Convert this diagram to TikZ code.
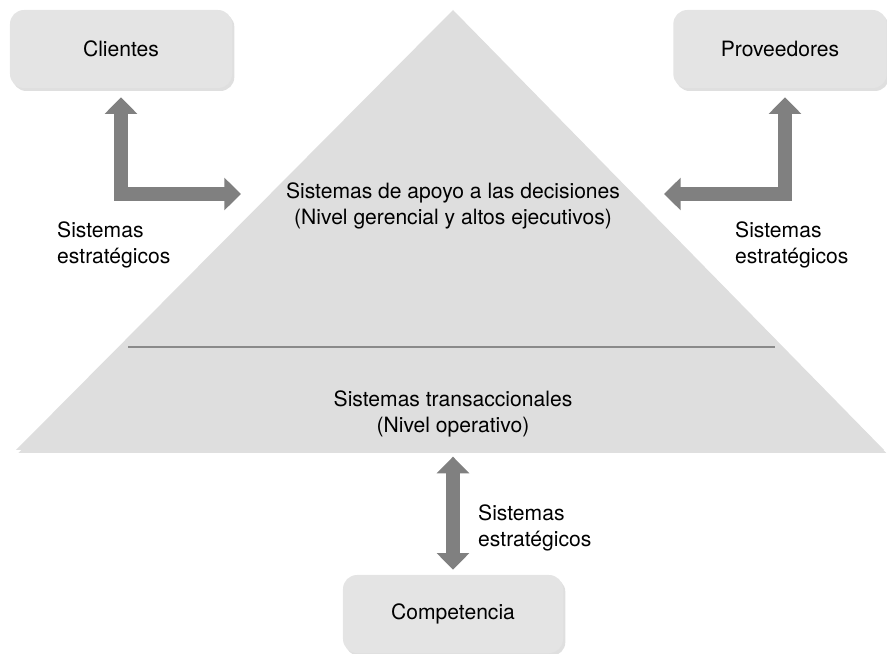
\documentclass[tikz,border=0pt]{standalone}
\usepackage{fontspec}
\setmainfont{TeX Gyre Heros}
\usepackage{tikz}
\usetikzlibrary{arrows.meta,positioning,calc,shadows}
\definecolor{BoxGray}{HTML}{E4E4E4}
\definecolor{PyrGray}{HTML}{DEDEDE}
\definecolor{ArrGray}{HTML}{808080}
\definecolor{LineGray}{HTML}{8A8A8A}

\begin{document}
\begin{tikzpicture}[x=0.03cm,y=-0.03cm,
    font=\fontsize{18}{22}\selectfont,
    actor/.style={draw=none,fill=BoxGray,rounded corners=0.42cm,minimum height=2.34cm,
      drop shadow={shadow xshift=0.07cm,shadow yshift=-0.09cm,opacity=0.25}},
    bigarrow/.style={draw=ArrGray,line width=0.4cm,
      {Triangle[width=0.95cm,length=0.5cm]}-{Triangle[width=0.95cm,length=0.5cm]}},
    lbl/.style={align=left,anchor=west,inner sep=0pt}]
      \useasboundingbox (0,0) rectangle (887,654);
      % piramide
      \coordinate (apex) at (453,10);
      \coordinate (bl) at (16,450);
      \coordinate (br) at (884,450);
      \coordinate (bm) at (453,450);
      \fill[PyrGray,drop shadow={shadow xshift=0.07cm,shadow yshift=-0.09cm,opacity=0.25}]
        (apex) -- (br) -- (bl) -- cycle;
      \coordinate (dl) at (128,347);
      \coordinate (dr) at (775,347);
      \draw[LineGray,line width=0.06cm] (dl) -- (dr);
      \node[align=center] (dss) at (453,206) {Sistemas de apoyo a las decisiones\\(Nivel gerencial y altos ejecutivos)};
      \node[align=center] (tps) at (453,414) {Sistemas transaccionales\\(Nivel operativo)};
      % entorno
      \node[actor,minimum width=6.66cm] (cli) at (121,49) {Clientes};
      \node[actor,minimum width=6.4cm] (prov) at (780,49) {Proveedores};
      \node[actor,minimum width=6.6cm] (comp) at (453,614) {Competencia};
      \coordinate (ltip) at (241,194);
      \coordinate (rtip) at (664,194);
      \draw[bigarrow] ([yshift=-0.27cm]cli.south) |- (ltip);
      \draw[bigarrow] ([yshift=-0.27cm]cli.south -| 785,0) |- (rtip);
      \draw[bigarrow] ([yshift=-0.2cm]bm) -- ([yshift=0.15cm]comp.north);
      \node[lbl] (sel) at (57,245) {Sistemas\\estratégicos};
      \node[lbl] (ser) at (735,245) {Sistemas\\estratégicos};
      \node[lbl] (seb) at (478,528) {Sistemas\\estratégicos};
\end{tikzpicture}
\end{document}
